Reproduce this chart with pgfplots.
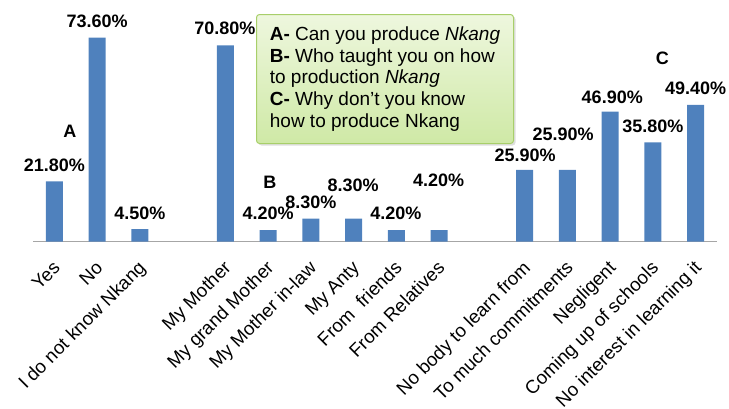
\documentclass[border=0pt]{standalone}
\usepackage{fontspec}
\setmainfont{Liberation Sans}
\usepackage{pgfplots}
\pgfplotsset{compat=1.18}
\usetikzlibrary{shadows}
\definecolor{barblue}{HTML}{4F81BD}
\definecolor{legtop}{HTML}{EEF7DE}
\definecolor{legbot}{HTML}{CFE9A6}
\definecolor{legborder}{HTML}{A8CF6A}
\definecolor{axisgray}{HTML}{A6A6A6}
\begin{document}
\begin{tikzpicture}
\useasboundingbox (-33pt,-166.3pt) rectangle (696pt,241.7pt);
\begin{axis}[
  at={(0pt,0pt)}, anchor=south west,
  scale only axis, width=684pt, height=235.6pt,
  xmin=-0.5, xmax=15.5, ymin=0, ymax=85,
  axis x line*=bottom, axis y line=none,
  x axis line style={draw=axisgray, line width=1.2pt, -},
  ytick=\empty,
  xtick={0,1,2,4,5,6,7,8,9,11,12,13,14,15},
  xticklabels={Yes,No,I do not know Nkang,My Mother,My grand Mother,My Mother in-law,My Anty,From\ \ friends,From Relatives,No body to learn from,To much commitments,Negligent,Coming up of schools,No interest in learning it},
  major tick length=0pt,
  xticklabel style={xshift=-3pt, yshift=-17.5pt, rotate=45, anchor=north east, inner sep=0pt, text height=13.7pt, text depth=4pt, font=\fontsize{18.7}{18.7}\selectfont},
  clip=false,
]
\addplot[ybar, bar width=17pt, fill=barblue, draw=none] coordinates {
  (0,21.8) (1,73.6) (2,4.5)
  (4,70.8) (5,4.2) (6,8.3) (7,8.3) (8,4.2) (9,4.2)
  (11,25.9) (12,25.9) (13,46.9) (14,35.8) (15,49.4)
};
\addplot[draw=none, mark=none, nodes near coords, point meta=explicit symbolic,
  nodes near coords style={anchor=center, inner sep=0pt, font=\bfseries\fontsize{18}{18}\selectfont, text=black}]
  coordinates {
  (0,27.4)[21.80\%] (1,79.6)[73.60\%] (2,10.35)[4.50\%]
  (3.99,77.1)[70.80\%] (5,10.35)[4.20\%] (6,14.3)[8.30\%] (6.99,20.45)[8.30\%]
  (7.99,10.35)[4.20\%] (8.99,22.3)[4.20\%]
  (11.01,31.3)[25.90\%] (11.9,38.85)[25.90\%] (13.05,52.2)[46.90\%]
  (14.0,41.7)[35.80\%] (15.0,55.4)[49.40\%]
  (0.36,39.9)[A] (5.04,21.5)[B] (14.22,66.3)[C]
};
\end{axis}
\node[anchor=north west, draw=legborder, line width=1pt, rounded corners=3pt,
  top color=legtop, bottom color=legbot,
  drop shadow={opacity=0.25, shadow xshift=2pt, shadow yshift=-2pt},
  minimum width=257pt, minimum height=129pt,
  inner xsep=12.5pt, align=left, font=\fontsize{19}{21.7}\selectfont]
  at (223pt,227.7pt)
  {\textbf{A-} Can you produce \textit{Nkang}\\
   \textbf{B-} Who taught you on how\\
   to production \textit{Nkang}\\
   \textbf{C-} Why don't you know\\
   how to produce Nkang};
\end{tikzpicture}
\end{document}
